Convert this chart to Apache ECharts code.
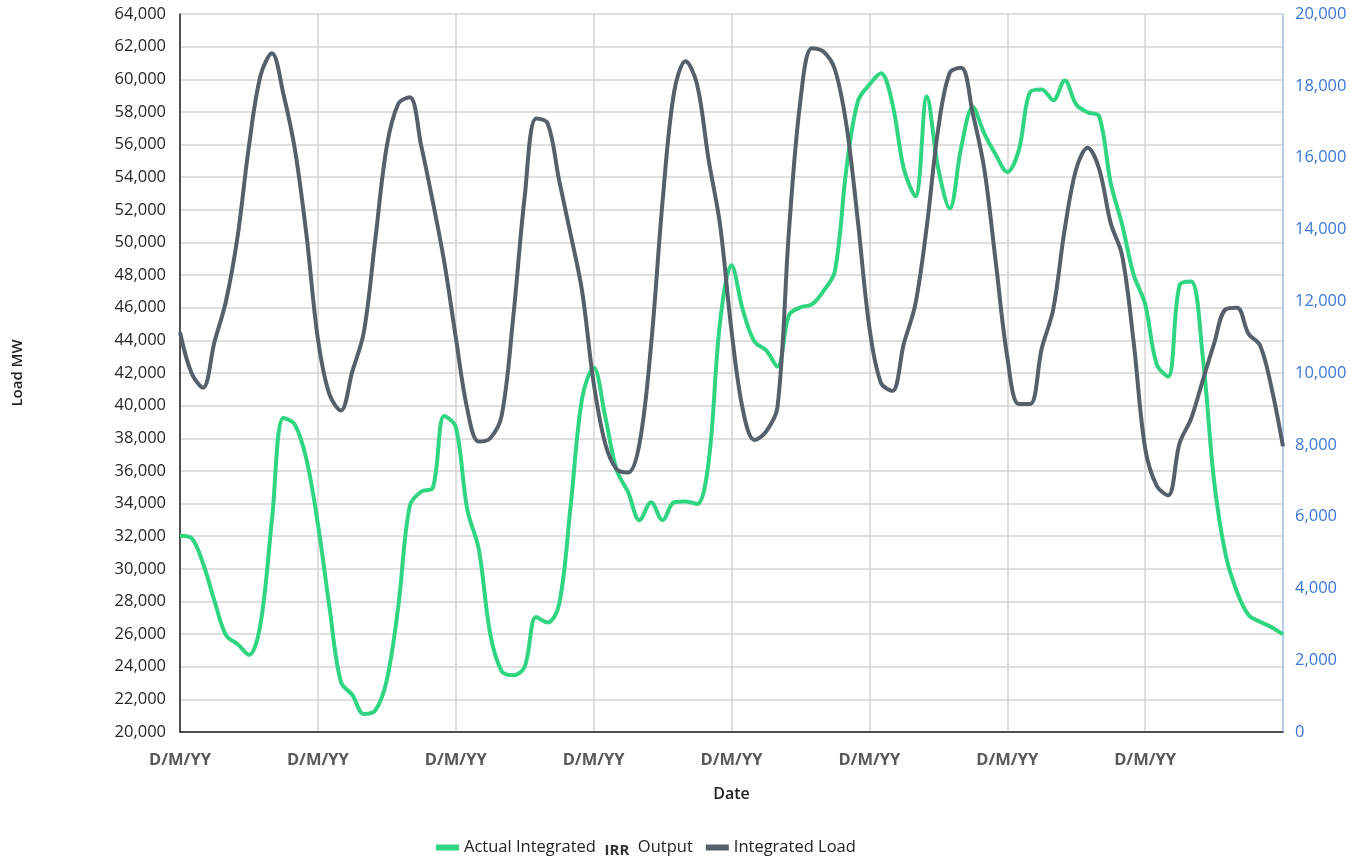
<!DOCTYPE html>
<html>
<head>
<meta charset="utf-8">
<script src="https://cdn.jsdelivr.net/npm/echarts@6/dist/echarts.min.js"></script>
<style>
html,body{margin:0;padding:0;background:#fff;}
#chart{width:1366px;height:863px;}
</style>
</head>
<body>
<div id="chart"></div>
<script>
// Tick labels for the date axis (one per day gridline)
const dateLabels = ['D/M/YY','D/M/YY','D/M/YY','D/M/YY','D/M/YY','D/M/YY','D/M/YY','D/M/YY'];
// Two-hour sample slots, 8 days
const pointsPerDay = 12;
const categories = Array.from({length: 97}, (_, i) => 'h' + (i * 2));

// Integrated Load (left axis, MW)
const integratedLoad = [
  44500, 42000, 41100, 43900, 46400, 50300, 55900, 60200, 61600, 59100, 55700, 50500,
  44100, 40700, 39700, 42100, 44500, 50200, 55900, 58500, 58900, 55900, 52500, 48800,
  44200, 39800, 37800, 38000, 39400, 45400, 52800, 57600, 57300, 53800, 50500, 47000,
  41400, 37700, 36100, 35900, 37700, 43700, 52500, 59200, 61100, 59700, 55100, 51100,
  44600, 39700, 37900, 38400, 39900, 50700, 58700, 61900, 61700, 60600, 57200, 51300,
  44800, 41400, 40900, 43800, 46200, 51000, 57000, 60400, 60700, 57900, 54500, 48800,
  43000, 40100, 40100, 43500, 45900, 50800, 54500, 55800, 54500, 51200, 49200, 43900,
  37400, 35100, 34500, 37700, 39200, 41500, 43800, 45900, 46000, 44400, 43700, 41100,
  37500
];

// Actual Integrated IRR Output (right axis)
const irrOutput = [
  5470, 5400, 4700, 3650, 2700, 2450, 2150, 3000, 5900, 8750, 8560, 7600,
  5800, 3500, 1400, 1030, 500, 600, 1450, 3500, 6300, 6700, 6800, 8800,
  8500, 6200, 5100, 2730, 1690, 1580, 1820, 3200, 3050, 3560, 6300, 9300,
  10150, 8800, 7300, 6680, 5900, 6400, 5900, 6400, 6420, 6350, 7500, 11400,
  13000, 11740, 10870, 10640, 10180, 11610, 11830, 11910, 12280, 12840, 15690, 17570,
  18030, 18350, 17510, 15690, 14920, 17700, 15690, 14590, 16300, 17400, 16670, 16080,
  15600, 16200, 17830, 17900, 17600, 18150, 17480, 17260, 17150, 15300, 14130, 12740,
  11920, 10250, 9900, 12450, 12550, 10500, 7000, 4950, 3900, 3260, 3070, 2920,
  2720
];

const FONT = '"Open Sans", "Noto Sans", sans-serif';
const fmt = v => Number(v).toLocaleString('en-US');

const chart = echarts.init(document.getElementById('chart'), null, {renderer: 'canvas'});
chart.setOption({
  backgroundColor: '#ffffff',
  animation: false,
  textStyle: {fontFamily: FONT},
  grid: {left: 180, right: 83, top: 14, bottom: 131, containLabel: false},
  legend: {
    left: 431,
    top: 834,
    itemWidth: 23,
    itemHeight: 6,
    itemGap: 13,
    icon: 'rect',
    data: ['Actual Integrated IRR Output', 'Integrated Load'],
    formatter: name => name === 'Actual Integrated IRR Output'
      ? '{a|Actual Integrated  }{b|IRR}{a|  Output}'
      : '{a|' + name + '}',
    textStyle: {
      fontFamily: FONT,
      rich: {
        a: {fontSize: 16.5, color: '#222', fontFamily: FONT},
        b: {fontSize: 15, color: '#333', fontWeight: 'bold', fontFamily: FONT, padding: [7, 0, 0, 0]}
      }
    }
  },
  xAxis: {
    type: 'category',
    data: categories,
    boundaryGap: false,
    name: 'Date',
    nameLocation: 'middle',
    nameGap: 54,
    nameTextStyle: {fontSize: 16, color: '#222', fontFamily: FONT, fontWeight: 600},
    axisLine: {show: true, lineStyle: {color: '#222', width: 1.5}},
    axisTick: {show: false},
    axisLabel: {
      interval: (i) => i % pointsPerDay === 0 && i < categories.length - 1,
      formatter: (v, i) => dateLabels[Math.floor(i / pointsPerDay)] || '',
      margin: 20,
      fontSize: 16.5,
      fontWeight: 'bold',
      color: '#595959',
      fontFamily: FONT
    },
    splitLine: {
      show: true,
      interval: (i) => i % pointsPerDay === 0,
      lineStyle: {color: '#d4d4d4', width: 1.5}
    }
  },
  yAxis: [
    {
      type: 'value',
      min: 20000,
      max: 64000,
      interval: 2000,
      name: 'Load MW',
      nameLocation: 'middle',
      nameGap: 155,
      nameRotate: 90,
      nameTextStyle: {fontSize: 15, color: '#222', fontFamily: FONT, fontWeight: 600},
      axisLine: {show: true, lineStyle: {color: '#222', width: 1.5}},
      axisTick: {show: false},
      axisLabel: {formatter: fmt, fontSize: 16.5, color: '#262626', margin: 14, fontFamily: FONT},
      splitLine: {show: true, lineStyle: {color: '#d4d4d4', width: 1.5}}
    },
    {
      type: 'value',
      min: 0,
      max: 20000,
      interval: 2000,
      position: 'right',
      axisLine: {show: true, lineStyle: {color: '#a8c8f0', width: 1.5}},
      axisTick: {show: false},
      axisLabel: {formatter: fmt, fontSize: 16.5, color: '#3a78d6', margin: 12, fontFamily: FONT},
      splitLine: {show: false}
    }
  ],
  series: [
    {
      name: 'Actual Integrated IRR Output',
      type: 'line',
      yAxisIndex: 1,
      data: irrOutput,
      smooth: 0.35,
      showSymbol: false,
      lineStyle: {color: '#2fd580', width: 4},
      itemStyle: {color: '#2fd580'},
      z: 3
    },
    {
      name: 'Integrated Load',
      type: 'line',
      yAxisIndex: 0,
      data: integratedLoad,
      smooth: 0.35,
      showSymbol: false,
      lineStyle: {color: '#56606a', width: 4},
      itemStyle: {color: '#56606a'},
      z: 4
    }
  ]
});
</script>
</body>
</html>
